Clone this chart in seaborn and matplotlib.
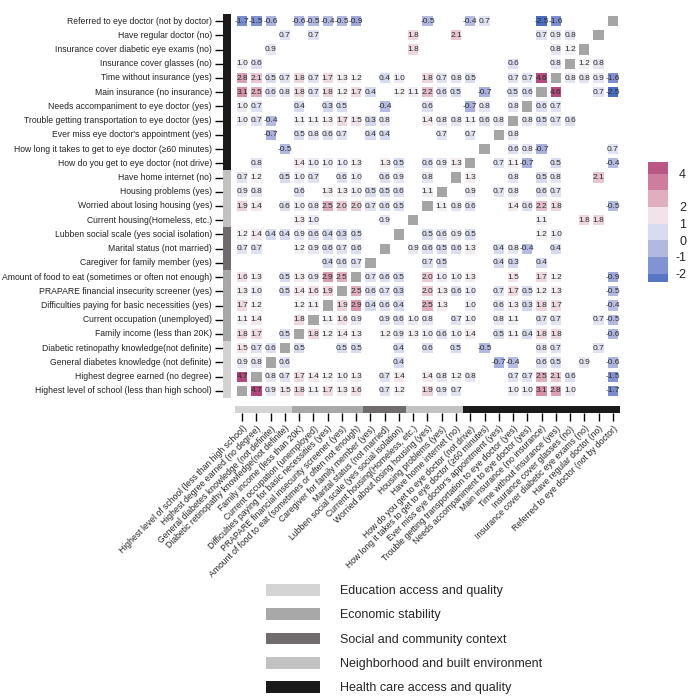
import numpy as np
import pandas as pd
import matplotlib
matplotlib.use('Agg')
import matplotlib.pyplot as plt
from matplotlib.colors import LinearSegmentedColormap, ListedColormap
from matplotlib.patches import Patch
import seaborn as sns

sns.set_theme(style='white')
plt.rcParams['font.family'] = ['Liberation Sans', 'DejaVu Sans']
plt.rcParams['axes.unicode_minus'] = False

# row order, top to bottom (columns run in reverse order)
labels = [
    'Referred to eye doctor (not by doctor)',
    'Have regular doctor (no)',
    'Insurance cover diabetic eye exams (no)',
    'Insurance cover glasses (no)',
    'Time without insurance (yes)',
    'Main insurance (no insurance)',
    'Needs accompaniment to eye doctor (yes)',
    'Trouble getting transportation to eye doctor (yes)',
    "Ever miss eye doctor's appointment (yes)",
    'How long it takes to get to eye doctor (\u226560 minutes)',
    'How do you get to eye doctor (not drive)',
    'Have home internet (no)',
    'Housing problems (yes)',
    'Worried about losing housing (yes)',
    'Current housing(Homeless, etc.)',
    'Lubben social scale (yes social isolation)',
    'Marital status (not married)',
    'Caregiver for family member (yes)',
    'Amount of food to eat (sometimes or often not enough)',
    'PRAPARE financial insecurity screener (yes)',
    'Difficulties paying for basic necessities (yes)',
    'Current occupation (unemployed)',
    'Family income (less than 20K)',
    'Diabetic retinopathy knowledge(not definite)',
    'General diabetes knowledge (not definite)',
    'Highest degree earned (no degree)',
    'Highest level of school (less than high school)',
]

domains = ['Education access and quality', 'Economic stability',
           'Social and community context', 'Neighborhood and built environment',
           'Health care access and quality']
domain_colors = ['#d4d4d4', '#a8a8a8', '#706b6c', '#c2c2c2', '#1a1a1a']
# domain index of each row
row_domain = [4] * 11 + [3] * 4 + [2] * 3 + [1] * 5 + [0] * 4

# cell values read row by row ('.' = blank, 'x' = diagonal)
rows = [
    "-1.7 -1.5 -0.6 . -0.6 -0.5 -0.4 -0.5 -0.9 . . . . -0.5 . . -0.4 0.7 . . . -2.5 -1.6 . . . x",
    ". . . 0.7 . 0.7 . . . . . . 1.8 . . 2.1 . . . . . 0.7 0.9 0.8 . x .",
    ". . 0.9 . . . . . . . . . 1.8 . . . . . . . . . 0.8 1.2 x . .",
    "1.0 0.6 . . . . . . . . . . . . . . . . . 0.6 . . 0.8 x 1.2 0.8 .",
    "2.8 2.1 0.5 0.7 1.8 0.7 1.7 1.3 1.2 . 0.4 1.0 . 1.8 0.7 0.8 0.5 . . 0.7 0.7 4.6 x 0.8 0.8 0.9 -1.6",
    "3.1 2.5 0.6 0.8 1.8 0.7 1.8 1.2 1.7 0.4 . 1.2 1.1 2.2 0.6 0.5 . -0.7 . 0.5 0.6 x 4.6 . . 0.7 -2.5",
    "1.0 0.7 . . 0.4 . 0.3 0.5 . . -0.4 . . 0.6 . . -0.7 0.8 . 0.8 x 0.6 0.7 . . . .",
    "1.0 0.7 -0.4 . 1.1 1.1 1.3 1.7 1.5 0.3 0.8 . . 1.4 0.8 0.8 1.1 0.6 0.8 x 0.8 0.5 0.7 0.6 . . .",
    ". . -0.7 . 0.5 0.8 0.6 0.7 . 0.4 0.4 . . . 0.7 . 0.7 . x 0.8 . . . . . . .",
    ". . . -0.5 . . . . . . . . . . . . . x . 0.6 0.8 -0.7 . . . . 0.7",
    ". 0.8 . . 1.4 1.0 1.0 1.0 1.3 . 1.3 0.5 . 0.6 0.9 1.3 x . 0.7 1.1 -0.7 . 0.5 . . . -0.4",
    "0.7 1.2 . 0.5 1.0 0.7 . 0.6 1.0 . 0.6 0.9 . 0.8 . x 1.3 . . 0.8 . 0.5 0.8 . . 2.1 .",
    "0.9 0.8 . . 0.6 . 1.3 1.3 1.0 0.5 0.5 0.6 . 1.1 x . 0.9 . 0.7 0.8 . 0.6 0.7 . . . .",
    "1.9 1.4 . 0.6 1.0 0.8 2.5 2.0 2.0 0.7 0.6 0.5 . x 1.1 0.8 0.6 . . 1.4 0.6 2.2 1.8 . . . -0.5",
    ". . . . 1.3 1.0 . . . . 0.9 . x . . . . . . . . 1.1 . . 1.8 1.8 .",
    "1.2 1.4 0.4 0.4 0.9 0.6 0.4 0.3 0.5 . . x . 0.5 0.6 0.9 0.5 . . . . 1.2 1.0 . . . .",
    "0.7 0.7 . . 1.2 0.9 0.6 0.7 0.6 . x . 0.9 0.6 0.5 0.6 1.3 . 0.4 0.8 -0.4 . 0.4 . . . .",
    ". . . . . . 0.4 0.6 0.7 x . . . 0.7 0.5 . . . 0.4 0.3 . 0.4 . . . . .",
    "1.6 1.3 . 0.5 1.3 0.9 2.9 2.5 x 0.7 0.6 0.5 . 2.0 1.0 1.0 1.3 . . 1.5 . 1.7 1.2 . . . -0.9",
    "1.3 1.0 . 0.5 1.4 1.6 1.9 x 2.5 0.6 0.7 0.3 . 2.0 1.3 0.6 1.0 . 0.7 1.7 0.5 1.2 1.3 . . . -0.5",
    "1.7 1.2 . . 1.2 1.1 x 1.9 2.9 0.4 0.6 0.4 . 2.5 1.3 . 1.0 . 0.6 1.3 0.3 1.8 1.7 . . . -0.4",
    "1.1 1.4 . . 1.8 x 1.1 1.6 0.9 . 0.9 0.6 1.0 0.8 . 0.7 1.0 . 0.8 1.1 . 0.7 0.7 . . 0.7 -0.5",
    "1.8 1.7 . 0.5 x 1.8 1.2 1.4 1.3 . 1.2 0.9 1.3 1.0 0.6 1.0 1.4 . 0.5 1.1 0.4 1.8 1.8 . . . -0.6",
    "1.5 0.7 0.6 x 0.5 . . 0.5 0.5 . . 0.4 . 0.6 . 0.5 . -0.5 . . . 0.8 0.7 . . 0.7 .",
    "0.9 0.8 x 0.6 . . . . . . . 0.4 . . . . . . -0.7 -0.4 . 0.6 0.5 . 0.9 . -0.6",
    "4.7 x 0.8 0.7 1.7 1.4 1.2 1.0 1.3 . 0.7 1.4 . 1.4 0.8 1.2 0.8 . . 0.7 0.7 2.5 2.1 0.6 . . -1.5",
    "x 4.7 0.9 1.5 1.8 1.1 1.7 1.3 1.6 . 0.7 1.2 . 1.9 0.9 0.7 . . . 1.0 1.0 3.1 2.8 1.0 . . -1.7",
]

vmin, vmax = -2.5, 4.7
# colour anchors (value, colour)
anchor_vals = [-2.5, -1.6, -0.7, 0.0, 0.7, 1.2, 1.8, 2.5, 3.1, 4.7]
anchor_cols = ['#4a6fc2', '#7e90d2', '#a7b0de', '#c9cee9', '#e0e2f1',
               '#f3f0f3', '#eed6df', '#e1aec0', '#d692aa', '#b3467a']
cbar_ticks = [4, 2, 1, 0, -1, -2]
cbar_bounds = [-2.5, -2, -1, 0, 1, 2, 3, 4, 4.7]

tokens = [r.split() for r in rows]
vals = np.array([[np.nan if t in '.x' else float(t) for t in r] for r in tokens])
annot = np.array([['' if t in '.x' else t for t in r] for r in tokens])
diag = np.array([[1.0 if t == 'x' else np.nan for t in r] for r in tokens])

cols = labels[::-1]
df = pd.DataFrame(vals, index=labels, columns=cols)
diag_df = pd.DataFrame(diag, index=labels, columns=cols)

cmap = LinearSegmentedColormap.from_list(
    'div', list(zip([(v - vmin) / (vmax - vmin) for v in anchor_vals], anchor_cols)))

W = H = 700.0
def box(l, t, w, h):
    return [l / W, 1 - (t + h) / H, w / W, h / H]

fig = plt.figure(figsize=(7, 7), dpi=100)
ax = fig.add_axes(box(235, 14, 385, 384))

sns.heatmap(df, ax=ax, cmap=cmap, vmin=vmin, vmax=vmax, cbar=False,
            annot=annot, fmt='', annot_kws={'fontsize': 6, 'color': '#2b2b2b'},
            xticklabels=False, yticklabels=False)
sns.heatmap(diag_df, ax=ax, cmap=ListedColormap(['#a5a5a5']), cbar=False,
            linewidths=1.6, linecolor='white', xticklabels=False, yticklabels=False)
ax.set_xlabel('')
ax.set_ylabel('')

# domain bar on the left
ax_l = fig.add_axes(box(223, 14, 8, 384))
left_df = pd.DataFrame({'d': row_domain}, index=labels)
sns.heatmap(left_df, ax=ax_l, cmap=ListedColormap(domain_colors), vmin=-0.5, vmax=4.5,
            cbar=False, xticklabels=False, yticklabels=True)
ax_l.set_ylabel('')
ax_l.tick_params(axis='y', left=True, length=6, width=1, color='black', pad=2,
                 labelsize=6.2, labelcolor='#222222')
ax_l.set_yticklabels(labels, rotation=0)

# domain bar at the bottom
ax_b = fig.add_axes(box(235, 406, 385, 7))
bottom_df = pd.DataFrame([row_domain[::-1]], columns=cols)
sns.heatmap(bottom_df, ax=ax_b, cmap=ListedColormap(domain_colors), vmin=-0.5, vmax=4.5,
            cbar=False, xticklabels=True, yticklabels=False)
ax_b.tick_params(axis='x', bottom=True, length=6, width=1, color='black', pad=2,
                 labelsize=6.2, labelcolor='#222222')
ax_b.set_xticklabels(cols, rotation=45, ha='right', rotation_mode='anchor')

# colour key, drawn in bands
cax = fig.add_axes(box(648, 162, 20, 120))
mids = [(a + b) / 2 for a, b in zip(cbar_bounds[:-1], cbar_bounds[1:])]
cb = fig.colorbar(ax.collections[0], cax=cax, boundaries=cbar_bounds, values=mids,
                  spacing='proportional', ticks=cbar_ticks)
cb.outline.set_visible(False)
cax.tick_params(labelsize=9, length=0, pad=13)
for t in cax.get_yticklabels():
    t.set_horizontalalignment('right')

# domain legend
handles = [Patch(facecolor=c, edgecolor='none', label=n) for n, c in zip(domains, domain_colors)]
fig.legend(handles=handles, loc='upper left', bbox_to_anchor=(266 / W, 1 - 584 / H),
           frameon=False, fontsize=9, handlelength=4.3, handleheight=1.05,
           labelspacing=0.9, handletextpad=1.6, borderaxespad=0, borderpad=0)

fig.savefig('out.png', dpi=100)
